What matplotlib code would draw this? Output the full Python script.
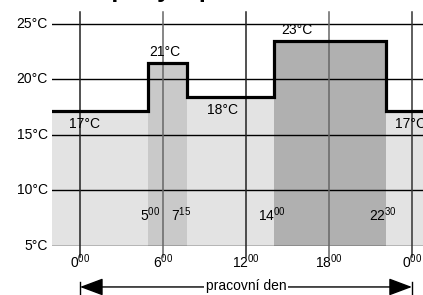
import numpy as np
import matplotlib
matplotlib.use("Agg")
import matplotlib.pyplot as plt
from matplotlib.patches import FancyArrowPatch

plt.rcParams['font.family'] = ['Liberation Sans', 'DejaVu Sans']
plt.rcParams['mathtext.fontset'] = 'custom'
plt.rcParams['mathtext.rm'] = 'Liberation Sans'
plt.rcParams['mathtext.it'] = 'Liberation Sans'

# step profile (hours, degC) as drawn
seg_start = [-2.1, 4.9, 7.75, 14.0, 22.1]
seg_end = [4.9, 7.75, 14.0, 22.1, 25.0]
seg_temp = [17.2, 21.5, 18.4, 23.5, 17.2]
seg_color = ['#e3e3e3', '#c9c9c9', '#e3e3e3', '#b0b0b0', '#e3e3e3']

temp_labels = ['17°C', '21°C', '18°C', '23°C', '17°C']
temp_lab_x = [0.3, 6.15, 10.3, 15.7, 23.9]
temp_lab_y = [16.0, 22.5, 17.25, 24.5, 16.0]

switch_labels = ['5$^{00}$', '7$^{15}$', '14$^{00}$', '22$^{30}$']
switch_x = [5.05, 7.3, 13.9, 21.9]

y_ticks = [5, 10, 15, 20, 25]
x_ticks = [0, 6, 12, 18, 24]
x_tick_labels = ['0$^{00}$', '6$^{00}$', '12$^{00}$', '18$^{00}$', '0$^{00}$']
x_line_colors = ['#222222', '#666666', '#222222', '#666666', '#333333']

W, H = 423, 295
fig = plt.figure(figsize=(W / 100, H / 100), dpi=100)
ax = fig.add_axes([52 / W, 49 / H, 371 / W, 234 / H])
ax.set_xlim(-2.025, 24.8)
ax.set_ylim(5, 26.08)
ax.axis('off')

# filled blocks
widths = np.array(seg_end) - np.array(seg_start)
heights = np.array(seg_temp) - 5
ax.bar(seg_start, heights, width=widths, bottom=5, align='edge',
       color=seg_color, edgecolor='none', zorder=1)

# grid
for y in y_ticks:
    ax.axhline(y, color='black', lw=1.0, zorder=2)
for x, c in zip(x_ticks, x_line_colors):
    ax.plot([x, x], [4.0, 26.08], color=c, lw=1.1, zorder=2, clip_on=False)

# step outline
xs = seg_start[1:] + [seg_end[-1]]
ys = seg_temp[1:] + [seg_temp[-1]]
ax.step([seg_start[0]] + xs, [seg_temp[0]] + ys, where='post',
        color='black', lw=2.3, zorder=3, solid_joinstyle='miter')

# labels
for s, x, y in zip(temp_labels, temp_lab_x, temp_lab_y):
    ax.text(x, y, s, ha='center', va='center', fontsize=10, zorder=4)
for s, x in zip(switch_labels, switch_x):
    ax.text(x, 7.8, s, ha='center', va='center', fontsize=10, zorder=4)
for s, x in zip(x_tick_labels, x_ticks):
    ax.text(x, 3.55, s, ha='center', va='center', fontsize=10, clip_on=False)
for y in y_ticks:
    ax.text(-2.35, y, f'{y}°C', ha='right', va='center', fontsize=10, clip_on=False)

# "pracovni den" arrow
for x in [x_ticks[0], x_ticks[-1]]:
    ax.plot([x, x], [0.55, 1.75], color='black', lw=1.0, clip_on=False)
arr = FancyArrowPatch((x_ticks[0], 1.31), (x_ticks[-1], 1.31),
                      arrowstyle='<|-|>,head_length=1.2,head_width=0.45',
                      mutation_scale=12, color='black', lw=1.0,
                      shrinkA=0, shrinkB=0, clip_on=False)
ax.add_patch(arr)
ax.text(12, 1.4, 'pracovní den', ha='center', va='center', fontsize=10,
        clip_on=False, bbox=dict(facecolor='white', edgecolor='none', pad=1.5))

# title, cut by the top edge
fig.text(84 / W, 1 + 3.5 / H, 'Teploty v pracovní den', fontsize=18,
         fontweight='bold', ha='left', va='baseline')

fig.savefig('out.png', dpi=100)
